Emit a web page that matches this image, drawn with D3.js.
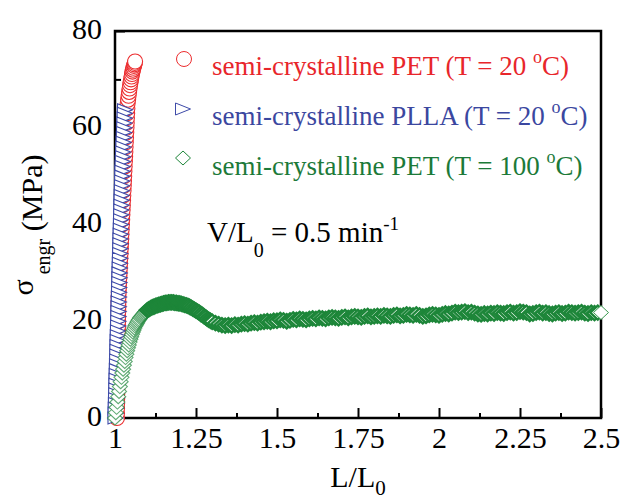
<!DOCTYPE html>
<html>
<head>
<meta charset="utf-8">
<script src="https://cdn.jsdelivr.net/npm/d3@7"></script>
<style>
  html, body { margin: 0; padding: 0; background: #fff; }
  svg { display: block; font-family: "Liberation Serif", "Times New Roman", serif; }
</style>
</head>
<body>
<svg id="chart" width="622" height="502"></svg>
<script>
// ---- data: [L/L0, engineering stress (MPa)] ----
const petCold = [
  [1.0060,0],[1.0062,1],[1.0064,2],[1.0066,3],[1.0068,4],[1.0070,5],[1.0072,6],[1.0074,7],[1.0076,8],[1.0078,9],
  [1.0080,10],[1.0082,11],[1.0084,12],[1.0086,13],[1.0088,14],[1.0090,15],[1.0092,16],[1.0094,17],[1.0096,18],[1.0098,19],
  [1.0100,20],[1.0102,21],[1.0104,22],[1.0106,23],[1.0108,24],[1.0110,25],[1.0117,26],[1.0124,27],[1.0131,28],[1.0138,29],
  [1.0145,30],[1.0152,31],[1.0159,32],[1.0166,33],[1.0173,34],[1.0180,35],[1.0187,36],[1.0194,37],[1.0201,38],[1.0208,39],
  [1.0215,40],[1.0222,41],[1.0229,42],[1.0236,43],[1.0243,44],[1.0250,45],[1.0257,46],[1.0264,47],[1.0271,48],[1.0278,49],
  [1.0285,50],[1.0292,51],[1.0299,52],[1.0306,53],[1.0313,54],[1.0320,55],[1.0327,56],[1.0334,57],[1.0341,58],[1.0348,59],
  [1.0355,60],[1.0362,61],[1.0369,62],[1.0376,63],[1.0383,64],[1.0390,65],[1.0405,65.8],[1.0420,66.6],[1.0435,67.4],[1.0450,68.1],
  [1.0465,68.8],[1.0480,69.4],[1.0495,70.0],[1.0510,70.6],[1.0525,71.1],[1.0540,71.6],[1.0555,72.0],[1.0570,72.4],[1.0585,72.8],[1.0598,73.1],
  [1.0610,73.4],[1.0620,73.7]
];

const pllaCold = [
  [1.0015,0],[1.0019,1],[1.0023,2],[1.0028,3],[1.0032,4],[1.0036,5],[1.0040,6],[1.0044,7],[1.0049,8],[1.0053,9],
  [1.0057,10],[1.0061,11],[1.0065,12],[1.0070,13],[1.0074,14],[1.0078,15],[1.0082,16],[1.0086,17],[1.0091,18],[1.0095,19],
  [1.0099,20],[1.0103,21],[1.0107,22],[1.0112,23],[1.0116,24],[1.0120,25],[1.0124,26],[1.0128,27],[1.0133,28],[1.0137,29],
  [1.0141,30],[1.0145,31],[1.0149,32],[1.0154,33],[1.0158,34],[1.0162,35],[1.0166,36],[1.0170,37],[1.0175,38],[1.0179,39],
  [1.0183,40],[1.0187,41],[1.0191,42],[1.0196,43],[1.0200,44],[1.0204,45],[1.0208,46],[1.0212,47],[1.0217,48],[1.0221,49],
  [1.0225,50],[1.0229,51],[1.0235,52],[1.0241,53],[1.0247,54],[1.0253,55],[1.0259,56],[1.0266,57],[1.0272,58],[1.0278,59],
  [1.0284,60],[1.0290,61],[1.0297,62],[1.0303,63],[1.0310,63.7]
];

const petHot = [
  [1.0000,0.0],[1.0025,1.1],[1.0050,2.2],[1.0075,3.3],[1.0100,4.4],[1.0125,5.5],[1.0150,6.5],[1.0175,7.5],[1.0200,8.4],[1.0225,9.3],
  [1.0250,10.1],[1.0275,10.9],[1.0300,11.7],[1.0325,12.5],[1.0350,13.2],[1.0375,13.9],[1.0400,14.5],[1.0425,15.1],[1.0450,15.7],[1.0475,16.3],
  [1.0500,16.8],[1.0525,17.3],[1.0550,17.8],[1.0575,18.2],[1.0600,18.6],[1.0625,19.0],[1.0650,19.3],[1.0675,19.6],[1.0700,19.9],[1.0725,20.2],
  [1.0750,20.4],[1.0775,20.7],[1.0800,20.9],[1.0825,21.1],[1.0850,21.3],[1.0875,21.5],[1.0900,21.7],[1.0925,21.9],[1.0950,22.0],[1.0975,22.2],
  [1.100,22.3],[1.105,22.5],[1.11,22.7],[1.115,22.9],[1.12,23.0],[1.125,23.2],[1.13,23.3],[1.135,23.4],[1.14,23.5],[1.145,23.6],
  [1.15,23.7],[1.155,23.8],[1.16,23.8],[1.165,23.9],[1.17,23.9],[1.175,23.9],[1.18,23.9],[1.185,23.8],[1.19,23.8],[1.195,23.7],
  [1.20,23.7],[1.205,23.6],[1.21,23.5],[1.215,23.4],[1.22,23.3],[1.225,23.2],[1.23,23.0],[1.235,22.8],[1.24,22.6],[1.245,22.4],
  [1.25,22.2],[1.255,22.0],[1.26,21.8],[1.265,21.5],[1.27,21.3],[1.275,21.0],[1.28,20.8],[1.285,20.5],[1.29,20.3],[1.295,20.1],
  [1.30,19.9],[1.31,19.6],[1.32,19.4],[1.33,19.2],[1.34,19.1],[1.35,19.2],[1.36,19.1],[1.37,19.3],[1.38,19.2],[1.39,19.4],
  [1.40,19.5],[1.41,19.4],[1.42,19.6],[1.43,19.7],[1.44,19.6],[1.45,19.8],[1.46,19.9],[1.47,20.0],[1.48,19.9],[1.49,20.1],
  [1.50,20.1],[1.51,20.3],[1.52,20.2],[1.53,20.0],[1.54,20.2],[1.55,20.4],[1.56,20.3],[1.57,20.5],[1.58,20.4],[1.59,20.3],
  [1.60,20.5],[1.61,20.6],[1.62,20.5],[1.63,20.7],[1.64,20.6],[1.65,20.5],[1.66,20.7],[1.67,20.8],[1.68,20.7],[1.69,20.6],
  [1.70,20.8],[1.71,20.9],[1.72,20.7],[1.73,20.9],[1.74,21.0],[1.75,20.9],[1.76,20.8],[1.77,21.0],[1.78,21.1],[1.79,20.9],
  [1.80,21.0],[1.81,21.1],[1.82,21.0],[1.83,21.2],[1.84,21.1],[1.85,21.0],[1.86,21.2],[1.87,21.3],[1.88,21.1],[1.89,21.2],
  [1.90,21.4],[1.91,21.3],[1.92,21.2],[1.93,21.4],[1.94,21.2],[1.95,21.0],[1.96,21.1],[1.97,21.3],[1.98,21.4],[1.99,21.3],
  [2.00,21.2],[2.01,21.4],[2.02,21.6],[2.03,21.5],[2.04,21.7],[2.05,21.9],[2.06,21.8],[2.07,21.9],[2.08,22.0],[2.09,21.8],
  [2.10,21.9],[2.11,21.7],[2.12,21.5],[2.13,21.4],[2.14,21.6],[2.15,21.5],[2.16,21.7],[2.17,21.6],[2.18,21.8],[2.19,21.7],
  [2.20,21.6],[2.21,21.8],[2.22,21.9],[2.23,21.7],[2.24,21.8],[2.25,22.0],[2.26,21.9],[2.27,21.8],[2.28,21.5],[2.29,21.6],
  [2.30,21.8],[2.31,21.9],[2.32,21.7],[2.33,21.8],[2.34,21.6],[2.35,21.5],[2.36,21.7],[2.37,21.8],[2.38,21.6],[2.39,21.7],
  [2.40,21.9],[2.41,21.8],[2.42,21.7],[2.43,21.8],[2.44,21.9],[2.45,21.7],[2.46,21.6],[2.47,21.8],[2.48,21.7],[2.49,21.8],
  [2.50,21.8]
];

const legendMaterials = ["semi-crystalline PET", "semi-crystalline PLLA", "semi-crystalline PET"];
const legendTemps = ["20", "20", "100"];

const xMajorTicks = [1, 1.25, 1.5, 1.75, 2, 2.25, 2.5];
const xTickLabels = ["1", "1.25", "1.5", "1.75", "2", "2.25", "2.5"];
const xMinorTicks = [1.125, 1.375, 1.625, 1.875, 2.125, 2.375];
const yMajorTicks = [0, 20, 40, 60, 80];
const yTickLabels = ["0", "20", "40", "60", "80"];
const yMinorTicks = [10, 30, 50, 70];

// ---- styling ----
const RED = "#ec2d2f", BLUE = "#3d4aa8", GREEN = "#1d8639";
const RED_TXT = "#e8262b", BLUE_TXT = "#3b479f", GREEN_TXT = "#1c7a39";
const FONT = "Liberation Serif, Times New Roman, serif";

const svg = d3.select("#chart");
const plot = { left: 115, right: 601, top: 31, bottom: 418 };

const x = d3.scaleLinear().domain([1, 2.5]).range([plot.left, plot.right]);
const y = d3.scaleLinear().domain([0, 80]).range([plot.bottom, plot.top]);

// ---- axes (inward ticks) ----
const gx = svg.append("g").attr("transform", `translate(0,${plot.bottom})`)
  .call(d3.axisBottom(x).tickValues(xMajorTicks)
    .tickFormat((d, i) => xTickLabels[i]).tickSize(-10).tickPadding(9));
const gxMinor = svg.append("g").attr("transform", `translate(0,${plot.bottom})`)
  .call(d3.axisBottom(x).tickValues(xMinorTicks).tickFormat("").tickSize(-5));
const gy = svg.append("g").attr("transform", `translate(${plot.left},0)`)
  .call(d3.axisLeft(y).tickValues(yMajorTicks)
    .tickFormat((d, i) => yTickLabels[i]).tickSize(-10).tickPadding(13));
const gyMinor = svg.append("g").attr("transform", `translate(${plot.left},0)`)
  .call(d3.axisLeft(y).tickValues(yMinorTicks).tickFormat("").tickSize(-6));

[gx, gxMinor, gy, gyMinor].forEach(g => {
  g.select(".domain").remove();
  g.selectAll(".tick line").attr("stroke", "#000").attr("stroke-width", 2);
  g.selectAll("text").attr("fill", "#000").attr("font-size", 30).attr("font-family", FONT);
});
gy.selectAll("text").attr("dy", "0.24em");

// frame
svg.append("rect")
  .attr("x", plot.left).attr("y", plot.top)
  .attr("width", plot.right - plot.left).attr("height", plot.bottom - plot.top)
  .attr("fill", "none").attr("stroke", "#000").attr("stroke-width", 2.5);

// ---- marker shapes ----
const trianglePath = "M-7.5,-6L7.5,0L-7.5,6Z";
const diamondPath = "M0,-7L7.5,0L0,7L-7.5,0Z";

// PET at 20 °C: open circles
svg.append("g").selectAll("circle").data(petCold).join("circle")
  .attr("cx", d => x(d[0])).attr("cy", d => y(d[1])).attr("r", 7.5)
  .attr("fill", "#fff").attr("stroke", RED).attr("stroke-width", 1.1);

// PLLA at 20 °C: open right-pointing triangles (stacked from the top down)
svg.append("g").selectAll("path").data(pllaCold.slice().reverse()).join("path")
  .attr("d", trianglePath)
  .attr("transform", d => `translate(${x(d[0])},${y(d[1])})`)
  .attr("fill", "#fff").attr("stroke", BLUE).attr("stroke-width", 1.1);

// PET at 100 °C: open diamonds; the steep loading part is drawn lighter
const hot = svg.append("g");
hot.selectAll("path").data(petHot).join("path")
  .attr("d", diamondPath)
  .attr("transform", d => `translate(${x(d[0])},${y(d[1])})`)
  .attr("fill", "#fff")
  .attr("stroke", (d, i) => i === petHot.length - 1 ? "#3a9a50" : GREEN)
  .attr("stroke-opacity", d => d[0] < 1.1 ? 0.7 : 1)
  .attr("stroke-width", (d, i) => i === petHot.length - 1 ? 1 : (d[0] < 1.1 ? 1.1 : 2.4));

// ---- legend ----
const legendRows = [
  { color: RED, text: RED_TXT, mark: "circle", mx: 184, my: 59, ty: 75 },
  { color: BLUE, text: BLUE_TXT, mark: "triangle", mx: 183, my: 109, ty: 125 },
  { color: GREEN, text: GREEN_TXT, mark: "diamond", mx: 183, my: 158, ty: 175 }
];
legendRows.forEach((row, i) => {
  if (row.mark === "circle") {
    svg.append("circle").attr("cx", row.mx).attr("cy", row.my).attr("r", 7.5)
      .attr("fill", "#fff").attr("stroke", row.color).attr("stroke-width", 1);
  } else {
    svg.append("path").attr("d", row.mark === "triangle" ? trianglePath : diamondPath)
      .attr("transform", `translate(${row.mx},${row.my})`)
      .attr("fill", "#fff").attr("stroke", row.color).attr("stroke-width", 1);
  }
  const t = svg.append("text").attr("x", 212).attr("y", row.ty)
    .attr("font-size", 27).attr("fill", row.text);
  t.append("tspan").text(`${legendMaterials[i]} (T = ${legendTemps[i]} `);
  t.append("tspan").attr("font-size", 18).attr("dy", -12).text("o");
  t.append("tspan").attr("dy", 12).text("C)");
});

// ---- strain-rate annotation ----
const ann = svg.append("text").attr("x", 207).attr("y", 242).attr("font-size", 29).attr("fill", "#000");
ann.append("tspan").text("V/L");
ann.append("tspan").attr("font-size", 20).attr("dy", 15).text("0");
ann.append("tspan").attr("dy", -15).text(" = 0.5 min");
ann.append("tspan").attr("font-size", 19).attr("dy", -12).text("-1");

// ---- axis titles ----
const xt = svg.append("text").attr("x", 358).attr("y", 487)
  .attr("text-anchor", "middle").attr("font-size", 30).attr("fill", "#000");
xt.append("tspan").text("L/L");
xt.append("tspan").attr("font-size", 21).attr("dy", 8).text("0");

const yt = svg.append("text")
  .attr("transform", "translate(42,225) rotate(-90)")
  .attr("text-anchor", "middle").attr("font-size", 30).attr("fill", "#000");
yt.append("tspan").attr("dy", -9).text("σ");
yt.append("tspan").attr("font-size", 20).attr("dy", 17).attr("dx", 5).text("engr");
yt.append("tspan").attr("dy", -8).text(" (MPa)");
</script>
</body>
</html>
